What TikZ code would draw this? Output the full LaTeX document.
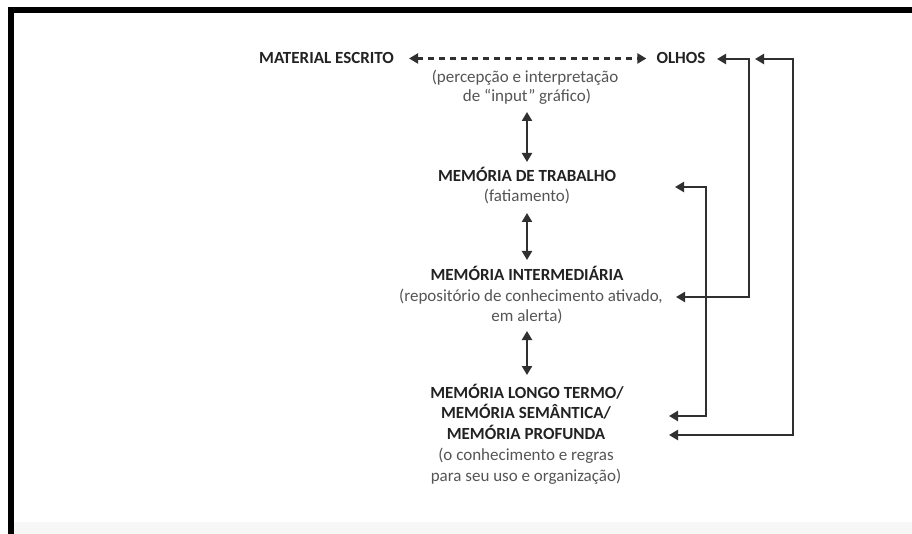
\documentclass[tikz,border=0pt]{standalone}
\usepackage{fontspec}
\setmainfont{Carlito}
\usetikzlibrary{arrows.meta}
\definecolor{titlec}{HTML}{222222}
\definecolor{subc}{HTML}{555555}
\definecolor{linec}{HTML}{303030}
\tikzset{
  ttl/.style={font=\fontsize{17}{20}\selectfont\bfseries, text=titlec, anchor=base, inner sep=1pt},
  sub/.style={font=\fontsize{17}{20}\selectfont, text=subc, anchor=base, inner sep=1pt},
  mytip/.tip={Triangle[length=9pt,width=10pt]},
  link/.style={draw=linec, line width=2.6pt, mytip-mytip},
  dashlink/.style={draw=linec, line width=2.6pt, dash pattern=on 6pt off 5pt, mytip-mytip},
}
\begin{document}
\begin{tikzpicture}[x=1pt,y=-1pt]
\useasboundingbox (0,0) rectangle (912,534);
\fill[white] (0,0) rectangle (912,534);
\fill[black!3] (14,522) rectangle (912,534);
\draw[line width=6pt, black, line join=miter] (912,10.5) -- (11,10.5) -- (11,534);

% top row
\node[ttl] (mat) at (326.5,64) {MATERIAL ESCRITO};
\node[ttl] (olh) at (681,64) {OLHOS};
\node[sub] (p1) at (525,83) {(percepção e interpretação};
\node[sub] (p2) at (527,102) {de “input” gráfico)};

% working memory
\node[ttl] (t1) at (527,182) {MEMÓRIA DE TRABALHO};
\node[sub] (s1) at (527,202) {(fatiamento)};

% intermediate memory
\node[ttl] (t2) at (527,281) {MEMÓRIA INTERMEDIÁRIA};
\node[sub] (s2a) at (531,301.5) {(repositório de conhecimento ativado,};
\node[sub] (s2b) at (527,322) {em alerta)};

% long term memory
\node[ttl] (l1) at (527,398) {MEMÓRIA LONGO TERMO/};
\node[ttl] (l2) at (526,418) {MEMÓRIA SEMÂNTICA/};
\node[ttl] (l3) at (526,439) {MEMÓRIA PROFUNDA};
\node[sub] (l4) at (526,460) {(o conhecimento e regras};
\node[sub] (l5) at (526,481) {para seu uso e organização)};

% vertical arrows
\draw[link] ([yshift=-10pt]p2.base) -- ([yshift=20pt]t1.base);
\draw[link] ([yshift=-11pt]s1.base) -- ([yshift=21pt]t2.base);
\draw[link] ([yshift=-9pt]s2b.base) -- ([yshift=23pt]l1.base);

% dashed arrow
\draw[dashlink] ([xshift=14pt]mat.east) -- ([xshift=-9pt]olh.west);

% right side connectors
\coordinate (xA) at (749,0);
\coordinate (xB) at (706,0);
\coordinate (xC) at (793,0);
\coordinate (oA) at (717,59);
\coordinate (oB) at (755,59);
\coordinate (wT) at (675,187);
\coordinate (iA) at (676,297);
\coordinate (lA) at (669,416);
\coordinate (lB) at (669,435);
\draw[link] (oA) -- (oA -| xA) |- (iA);
\draw[link] (wT) -- (wT -| xB) |- (lA);
\draw[link] (oB) -- (oB -| xC) |- (lB);
\end{tikzpicture}
\end{document}
